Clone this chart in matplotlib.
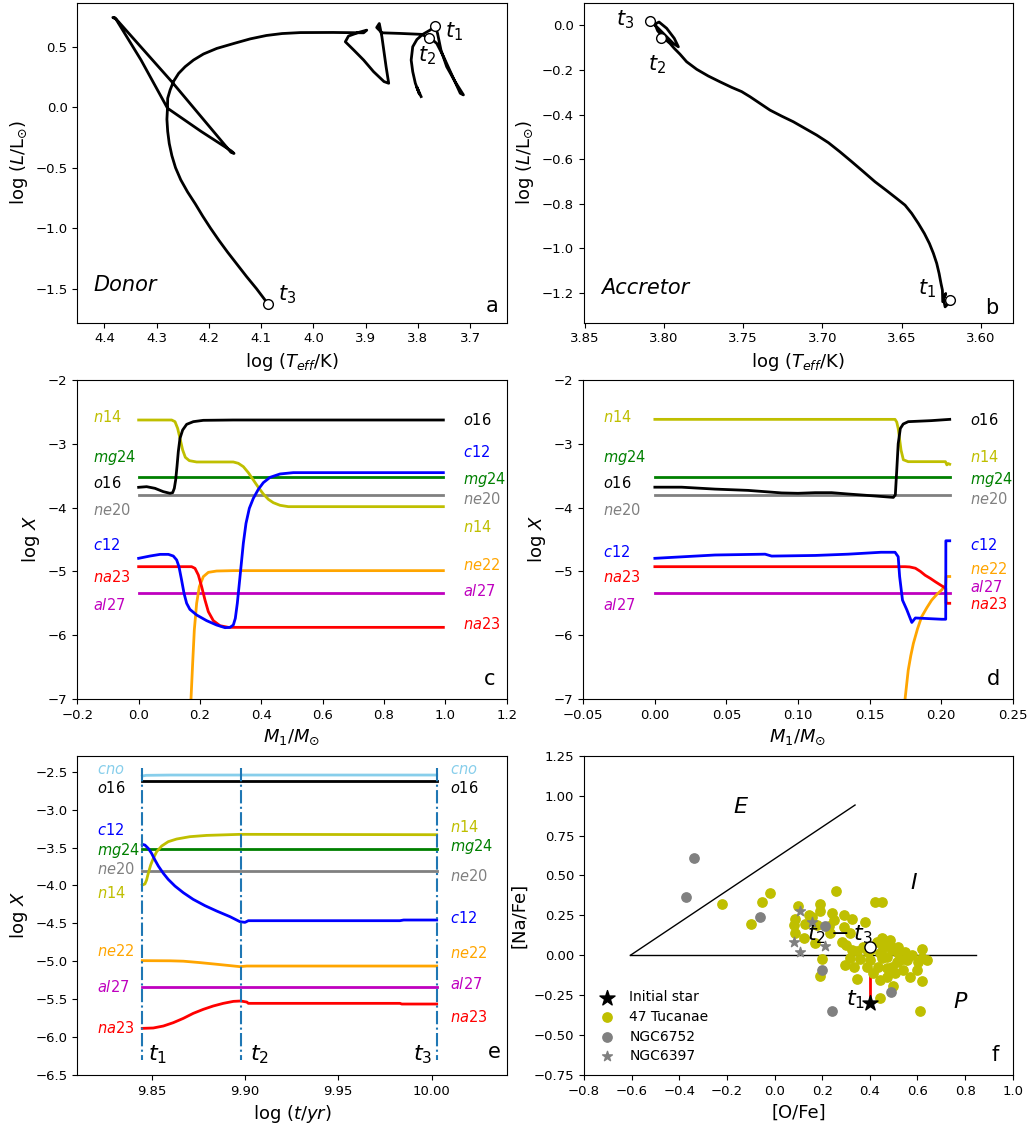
import numpy as np
import matplotlib
matplotlib.use('Agg')
import matplotlib.pyplot as plt

# ---------------- panel a : donor track ----------------
donor_logT = [3.794, 3.802, 3.797, 3.805, 3.810, 3.813, 3.810, 3.802, 3.791, 3.777, 3.767,
              3.7625, 3.756, 3.745, 3.729, 3.713, 3.719, 3.735, 3.751, 3.764, 3.773, 3.780,
              3.792, 3.834, 3.869, 3.879, 3.874, 3.869, 3.861, 3.856, 3.865, 3.885, 3.904,
              3.923, 3.939, 3.933, 3.914, 3.898, 3.904, 3.962, 4.025, 4.060, 4.090, 4.121, 4.150,
              4.185, 4.2105, 4.2296, 4.2456, 4.258, 4.268, 4.2743, 4.279, 4.2794,
              4.215, 4.157, 4.152, 4.158, 4.271, 4.380, 4.384, 4.378, 4.330, 4.2794,
              4.2805, 4.279, 4.276, 4.271, 4.264, 4.254, 4.241, 4.226, 4.212, 4.197, 4.181,
              4.164, 4.146, 4.128, 4.109, 4.087]
donor_logL = [0.088, 0.165, 0.107, 0.198, 0.294, 0.390, 0.500, 0.560, 0.602, 0.637, 0.670,
              0.610, 0.473, 0.335, 0.212, 0.102, 0.115, 0.266, 0.418, 0.527, 0.560, 0.569,
              0.602, 0.610, 0.615, 0.659, 0.692, 0.582, 0.335, 0.198, 0.212, 0.294, 0.390,
              0.473, 0.541, 0.588, 0.618, 0.637, 0.615, 0.618, 0.617, 0.609, 0.593, 0.565, 0.530,
              0.486, 0.440, 0.390, 0.335, 0.280, 0.212, 0.143, 0.074, -0.008,
              -0.200, -0.362, -0.382, -0.372, 0.210, 0.740, 0.742, 0.728, 0.390, -0.008,
              -0.1, -0.2, -0.3, -0.4, -0.5, -0.6, -0.7, -0.8, -0.9, -1.0, -1.1,
              -1.2, -1.3, -1.4, -1.5, -1.626]
donor_mark_logT = [3.767, 3.778, 4.087]
donor_mark_logL = [0.670, 0.569, -1.626]

# ---------------- panel b : accretor track ----------------
acc_logT = [3.6194, 3.6204, 3.6225, 3.6236, 3.6221, 3.6240, 3.6242, 3.6251, 3.6263, 3.6278,
            3.6299, 3.6324, 3.6356, 3.6394, 3.6436, 3.6478, 3.6531, 3.6594, 3.6668, 3.6741,
            3.6815, 3.6889, 3.6962, 3.7036, 3.7110, 3.7184, 3.7257, 3.7331, 3.7394, 3.7457,
            3.7510, 3.7573, 3.7647, 3.7721, 3.7794, 3.7858, 3.7900, 3.7936, 3.7963, 3.8005,
            3.8041, 3.8058, 3.8032, 3.7984, 3.7936, 3.7910, 3.7942, 3.8005, 3.8058, 3.8089]
acc_logL = [-1.232, -1.247, -1.262, -1.224, -1.202, -1.239, -1.187, -1.157, -1.112, -1.067,
            -1.022, -0.978, -0.933, -0.888, -0.843, -0.806, -0.776, -0.741, -0.701, -0.656,
            -0.611, -0.567, -0.526, -0.492, -0.462, -0.432, -0.407, -0.380, -0.350, -0.320,
            -0.297, -0.278, -0.253, -0.227, -0.197, -0.163, -0.129, -0.103, -0.081, -0.055,
            -0.024, 0.006, 0.015, -0.013, -0.058, -0.096, -0.081, -0.036, 0.0015, 0.021]
acc_mark_logT = [3.6194, 3.8022, 3.8089]
acc_mark_logL = [-1.232, -0.0553, 0.0209]

# ---------------- panel c : donor profiles ----------------
c_end = 0.9935
c_o16_m = [0, 0.0261, 0.0533, 0.0804, 0.1022, 0.1109, 0.1163, 0.1207, 0.125, 0.1293, 0.1348,
           0.1435, 0.1565, 0.1783, 0.2109, 0.3087, c_end]
c_o16 = [-3.682, -3.672, -3.698, -3.75, -3.776, -3.766, -3.698, -3.567, -3.358, -3.123, -2.914,
         -2.784, -2.695, -2.653, -2.632, -2.627, -2.627]
c_n14_m = [0, 0.1076, 0.1185, 0.1272, 0.1348, 0.1435, 0.1522, 0.1652, 0.1891, 0.3087, 0.325,
           0.3413, 0.3576, 0.3739, 0.3902, 0.4065, 0.4228, 0.4391, 0.4609, 0.488, c_end]
c_n14 = [-2.627, -2.627, -2.653, -2.758, -2.914, -3.097, -3.212, -3.264, -3.285, -3.285, -3.306,
         -3.358, -3.452, -3.567, -3.682, -3.787, -3.87, -3.923, -3.964, -3.985, -3.985]
c_c12_m = [0, 0.037, 0.07, 0.097, 0.113, 0.124, 0.1315, 0.14, 0.148, 0.1565, 0.167, 0.189,
           0.2217, 0.254, 0.2815, 0.298, 0.3087, 0.3152, 0.3217, 0.3283, 0.3348, 0.3413, 0.35,
           0.3609, 0.3739, 0.3902, 0.4065, 0.4283, 0.4609, 0.5043, c_end]
c_c12 = [-4.795, -4.759, -4.733, -4.733, -4.759, -4.821, -4.926, -5.135, -5.344, -5.50, -5.595,
         -5.683, -5.772, -5.84, -5.882, -5.877, -5.84, -5.736, -5.50, -5.187, -4.874, -4.56,
         -4.247, -4.011, -3.855, -3.714, -3.609, -3.526, -3.473, -3.452, -3.452]
c_na23_m = [0, 0.1728, 0.1837, 0.1946, 0.2054, 0.2163, 0.2272, 0.2435, 0.2652, 0.2924, c_end]
c_na23 = [-4.926, -4.926, -4.952, -5.056, -5.239, -5.448, -5.631, -5.772, -5.851, -5.877, -5.877]
c_ne22_m = [0.1674, 0.1707, 0.1761, 0.1815, 0.1891, 0.1978, 0.2109, 0.2272, 0.2543, 0.3087, c_end]
c_ne22 = [-7.33, -7.0, -6.441, -5.918, -5.50, -5.239, -5.082, -5.015, -4.994, -4.988, -4.988]
c_flat_m = [0, c_end]
c_mg24 = [-3.515, -3.515]
c_ne20 = [-3.808, -3.808]
c_al27 = [-5.339, -5.339]

# ---------------- panel d : accretor profiles ----------------
d_end = 0.206
d_o16_m = [0, 0.0187, 0.042, 0.065, 0.0886, 0.1, 0.112, 0.1235, 0.135, 0.154, 0.1666, 0.168,
           0.169, 0.170, 0.1715, 0.1735, 0.177, 0.193, d_end]
d_o16 = [-3.68, -3.68, -3.71, -3.73, -3.77, -3.776, -3.766, -3.766, -3.787, -3.818, -3.84, -3.80,
         -3.41, -3.0, -2.76, -2.69, -2.653, -2.637, -2.617]
d_n14_m = [0, 0.1678, 0.169, 0.170, 0.171, 0.172, 0.1736, 0.177, 0.203, 0.204, 0.205, d_end]
d_n14 = [-2.617, -2.617, -2.66, -2.76, -2.93, -3.10, -3.25, -3.28, -3.28, -3.33, -3.31, -3.32]
d_c12_m = [0, 0.042, 0.077, 0.0816, 0.112, 0.135, 0.158, 0.1678, 0.170, 0.171, 0.173, 0.176,
           0.1795, 0.182, 0.2004, 0.2032, 0.2033, d_end]
d_c12 = [-4.795, -4.743, -4.73, -4.76, -4.75, -4.73, -4.70, -4.70, -4.77, -5.08, -5.45, -5.6,
         -5.80, -5.73, -5.75, -5.75, -4.52, -4.52]
d_na23_m = [0, 0.1748, 0.178, 0.182, 0.1855, 0.1888, 0.1925, 0.1958, 0.2000, 0.2032, 0.2035, d_end]
d_na23 = [-4.926, -4.926, -4.93, -4.95, -5.00, -5.06, -5.11, -5.16, -5.22, -5.265, -5.50, -5.50]
d_ne22_m = [0.1735, 0.1748, 0.177, 0.1788, 0.1806, 0.1835, 0.1864, 0.190, 0.1934, 0.197,
            0.2004, 0.2032, 0.2035, d_end]
d_ne22 = [-7.5, -7.0, -6.55, -6.32, -6.13, -5.90, -5.71, -5.57, -5.45, -5.36, -5.29, -5.21, -5.08, -5.08]
d_flat_m = [0, d_end]
d_mg24 = [-3.515, -3.515]
d_ne20 = [-3.808, -3.808]
d_al27 = [-5.339, -5.339]

# ---------------- panel e : surface abundances vs time ----------------
e_times = [9.845, 9.8977, 10.0027]
e_flat_t = [9.845, 10.0027]
e_cno_t = [9.845, 9.847, 9.86, 10.0027]
e_cno = [-2.557, -2.548, -2.544, -2.544]
e_o16 = [-2.619, -2.619]
e_mg24 = [-3.515, -3.515]
e_ne20 = [-3.806, -3.806]
e_al27 = [-5.344, -5.344]
e_n14_t = [9.845, 9.8464, 9.8473, 9.8482, 9.8495, 9.8509, 9.8527, 9.8554, 9.8589, 9.8634,
           9.8705, 9.8795, 9.8977, 10.0027]
e_n14 = [-3.995, -3.981, -3.929, -3.841, -3.731, -3.643, -3.555, -3.48, -3.423, -3.388,
         -3.357, -3.34, -3.326, -3.331]
e_c12_t = [9.845, 9.8464, 9.8482, 9.85, 9.8518, 9.8536, 9.8563, 9.8589, 9.8625, 9.867, 9.8723,
           9.8786, 9.8848, 9.892, 9.8973, 9.90, 9.9018, 9.983, 9.985, 10.0027]
e_c12 = [-3.458, -3.467, -3.511, -3.577, -3.665, -3.744, -3.841, -3.920, -4.008, -4.096, -4.184,
         -4.267, -4.337, -4.412, -4.478, -4.487, -4.465, -4.465, -4.456, -4.456]
e_ne22_t = [9.845, 9.86, 9.867, 9.876, 9.885, 9.8973, 9.901, 10.0027]
e_ne22 = [-4.992, -4.994, -4.999, -5.018, -5.04, -5.071, -5.063, -5.063]
e_na23_t = [9.845, 9.8509, 9.8563, 9.8616, 9.867, 9.8723, 9.8777, 9.883, 9.8884, 9.8938, 9.8977,
            9.901, 9.9018, 9.983, 9.984, 10.0027]
e_na23 = [-5.885, -5.880, -5.854, -5.81, -5.753, -5.687, -5.634, -5.590, -5.555, -5.529, -5.524,
          -5.538, -5.555, -5.555, -5.564, -5.564]

# ---------------- panel f : [Na/Fe] vs [O/Fe] ----------------
tuc_OFe = [0.259, 0.420, 0.450, 0.097, 0.189, 0.189, 0.143, 0.087, 0.157, 0.241, 0.290, 0.248, 0.325,
           0.380, 0.080, 0.129, 0.178, 0.227, 0.290, 0.122, 0.171, 0.234, 0.283, 0.318, 0.301, 0.325,
           0.348, 0.394, 0.429, 0.450, 0.485, 0.457, 0.492, 0.520, 0.520, 0.548, 0.527, 0.576, 0.618,
           0.618, 0.639, 0.604, 0.597, 0.569, 0.618, 0.499, 0.471, 0.443, 0.415, 0.436, 0.388, 0.360,
           0.318, 0.297, 0.334, 0.348, 0.199, 0.189, 0.441, 0.611, 0.506, 0.450, 0.401, 0.492, 0.541,
           0.513, 0.471, 0.401, 0.485, 0.555, 0.443, 0.471, 0.373, 0.464, 0.087,
           -0.221, -0.099, -0.053, -0.021]
tuc_NaFe = [0.405, 0.336, 0.336, 0.309, 0.321, 0.279, 0.252, 0.225, 0.238, 0.263, 0.252, 0.221, 0.225,
            0.206, 0.190, 0.196, 0.190, 0.183, 0.175, 0.106, 0.075, 0.137, 0.085, 0.137, 0.064, 0.033,
            0.029, 0.023, 0.085, 0.106, 0.096, 0.043, 0.033, 0.050, 0.012, 0.023, -0.030, 0.002, 0.037,
            -0.019, -0.030, -0.040, -0.092, -0.138, -0.161, -0.190, -0.138, -0.155, -0.113, -0.071, -0.071, -0.026,
            -0.019, -0.061, -0.076, -0.151, -0.026, -0.130, -0.270, -0.349, -0.113, -0.019, -0.030, -0.071, -0.092,
            -0.040, -0.082, 0.033, 0.064, -0.030, 0.012, -0.009, 0.054, 0.085, 0.137,
            0.321, 0.194, 0.331, 0.388]
n6752_OFe = [-0.340, -0.372, -0.060, 0.210, 0.201, 0.490, 0.240]
n6752_NaFe = [0.607, 0.363, 0.237, 0.183, -0.092, -0.232, -0.349]
n6397_OFe = [0.108, 0.157, 0.080, 0.108, 0.210]
n6397_NaFe = [0.279, 0.210, 0.081, 0.018, 0.060]
init_OFe = [0.40]
init_NaFe = [-0.30]
final_OFe = [0.40]
final_NaFe = [0.05]
diag_OFe = [-0.605, 0.338]
diag_NaFe = [0.0, 0.941]
horiz_OFe = [-0.605, 0.846]
horiz_NaFe = [0.0, 0.0]

# ---------------- figure ----------------
W, H = 1030, 1126
fig = plt.figure(figsize=(W / 100, H / 100), dpi=100)

def axbox(x0, y0, x1, y1):
    return fig.add_axes([x0 / W, 1 - y1 / H, (x1 - x0) / W, (y1 - y0) / H])

axa = axbox(77.3, 3.3, 507.3, 322.7)
axb = axbox(583.7, 3.3, 1012.7, 322.7)
axc = axbox(77.3, 380, 506.7, 699)
axd = axbox(583.3, 380, 1012.7, 699)
axe = axbox(77.3, 755.7, 506.7, 1075)
axf = axbox(584, 755.7, 1012.7, 1075)

TICK = 9.5
LAB = 13
for ax in (axa, axb, axc, axd, axe, axf):
    ax.tick_params(labelsize=TICK)

def letter(ax, s, x, y):
    ax.text(x, y, s, transform=ax.transAxes, fontsize=15, ha='left', va='bottom')

# panel a
axa.plot(donor_logT, donor_logL, color='k', lw=2, solid_joinstyle='round')
axa.plot(donor_mark_logT, donor_mark_logL, 'o', ms=7, mfc='white', mec='k', mew=1)
axa.set_xlim(4.452, 3.629)
axa.set_ylim(-1.781, 0.859)
axa.set_xticks([4.4, 4.3, 4.2, 4.1, 4.0, 3.9, 3.8, 3.7])
axa.set_yticks([-1.5, -1.0, -0.5, 0.0, 0.5])
axa.set_xlabel(r'log ($T_{eff}$/K)', fontsize=LAB)
axa.set_ylabel(r'log ($L$/L$_{\odot}$)', fontsize=LAB)
axa.text(3.748, 0.624, r'$t_1$', fontsize=15, va='center')
axa.text(3.799, 0.43, r'$t_2$', fontsize=15, va='center')
axa.text(4.068, -1.547, r'$t_3$', fontsize=15, va='center')
axa.text(0.037, 0.1, 'Donor', transform=axa.transAxes, fontsize=15, style='italic')
letter(axa, 'a', 0.95, 0.02)

# panel b
axb.plot(acc_logT, acc_logL, color='k', lw=2, solid_joinstyle='round')
axb.plot(acc_mark_logT, acc_mark_logL, 'o', ms=7, mfc='white', mec='k', mew=1)
axb.set_xlim(3.8508, 3.5798)
axb.set_ylim(-1.333, 0.099)
axb.set_xticks([3.85, 3.80, 3.75, 3.70, 3.65, 3.60])
axb.set_yticks([-1.2, -1.0, -0.8, -0.6, -0.4, -0.2, 0.0])
axb.set_xlabel(r'log ($T_{eff}$/K)', fontsize=LAB)
axb.set_ylabel(r'log ($L$/L$_{\odot}$)', fontsize=LAB)
axb.text(3.8305, 0.024, r'$t_3$', fontsize=15, va='center')
axb.text(3.8104, -0.178, r'$t_2$', fontsize=15, va='center')
axb.text(3.6394, -1.18, r'$t_1$', fontsize=15, va='center')
axb.text(0.04, 0.09, 'Accretor', transform=axb.transAxes, fontsize=15, style='italic')
letter(axb, 'b', 0.935, 0.015)

LW = 2
cols = dict(o16='k', n14='y', c12='b', mg24='g', ne20='gray', ne22='orange',
            na23='r', al27='m', cno='skyblue')

def lab(ax, x, y, name):
    ax.text(x, y, r'$' + name + '$', color=cols[name], fontsize=10.5, ha='left', va='center')

def curve(ax, x, y, name):
    ax.plot(x, y, color=cols[name], lw=LW, solid_joinstyle='round')

# panel c
curve(axc, c_flat_m, c_mg24, 'mg24')
curve(axc, c_flat_m, c_ne20, 'ne20')
curve(axc, c_flat_m, c_al27, 'al27')
curve(axc, c_ne22_m, c_ne22, 'ne22')
curve(axc, c_na23_m, c_na23, 'na23')
curve(axc, c_n14_m, c_n14, 'n14')
curve(axc, c_o16_m, c_o16, 'o16')
curve(axc, c_c12_m, c_c12, 'c12')
axc.set_xlim(-0.2, 1.2)
axc.set_ylim(-7, -2)
axc.set_xticks(np.round(np.arange(-0.2, 1.21, 0.2), 1))
axc.set_yticks([-7, -6, -5, -4, -3, -2])
axc.set_xlabel(r'$M_1/M_{\odot}$', fontsize=LAB)
axc.set_ylabel(r'log $X$', fontsize=LAB)
for nm, yy in [('n14', -2.585), ('mg24', -3.21), ('o16', -3.62), ('ne20', -4.04),
               ('c12', -4.59), ('na23', -5.09), ('al27', -5.52)]:
    lab(axc, -0.148, yy, nm)
for nm, yy in [('o16', -2.627), ('c12', -3.123), ('mg24', -3.557), ('ne20', -3.865),
               ('n14', -4.30), ('ne22', -4.90), ('al27', -5.30), ('na23', -5.824)]:
    lab(axc, 1.059, yy, nm)
letter(axc, 'c', 0.948, 0.03)

# panel d
curve(axd, d_flat_m, d_mg24, 'mg24')
curve(axd, d_flat_m, d_ne20, 'ne20')
curve(axd, d_flat_m, d_al27, 'al27')
curve(axd, d_ne22_m, d_ne22, 'ne22')
curve(axd, d_na23_m, d_na23, 'na23')
curve(axd, d_n14_m, d_n14, 'n14')
curve(axd, d_o16_m, d_o16, 'o16')
curve(axd, d_c12_m, d_c12, 'c12')
axd.set_xlim(-0.05, 0.25)
axd.set_ylim(-7, -2)
axd.set_xticks([-0.05, 0.0, 0.05, 0.10, 0.15, 0.20, 0.25])
axd.set_yticks([-7, -6, -5, -4, -3, -2])
axd.set_xlabel(r'$M_1/M_{\odot}$', fontsize=LAB)
axd.set_ylabel(r'log $X$', fontsize=LAB)
for nm, yy in [('n14', -2.585), ('mg24', -3.21), ('o16', -3.62), ('ne20', -4.04),
               ('c12', -4.69), ('na23', -5.09), ('al27', -5.52)]:
    lab(axd, -0.036, yy, nm)
for nm, yy in [('o16', -2.627), ('n14', -3.21), ('mg24', -3.557), ('ne20', -3.865),
               ('c12', -4.586), ('ne22', -4.967), ('al27', -5.25), ('na23', -5.516)]:
    lab(axd, 0.2202, yy, nm)
letter(axd, 'd', 0.94, 0.03)

# panel e
curve(axe, e_cno_t, e_cno, 'cno')
curve(axe, e_flat_t, e_o16, 'o16')
curve(axe, e_flat_t, e_mg24, 'mg24')
curve(axe, e_flat_t, e_ne20, 'ne20')
curve(axe, e_flat_t, e_al27, 'al27')
curve(axe, e_n14_t, e_n14, 'n14')
curve(axe, e_c12_t, e_c12, 'c12')
curve(axe, e_ne22_t, e_ne22, 'ne22')
curve(axe, e_na23_t, e_na23, 'na23')
for tv in e_times:
    axe.plot([tv, tv], [-2.456, -6.302], color='#1f77b4', lw=1.5, ls='-.')
axe.set_xlim(9.8102, 10.0402)
axe.set_ylim(-6.5, -2.289)
axe.set_xticks([9.85, 9.90, 9.95, 10.00])
axe.set_xticklabels(['9.85', '9.90', '9.95', '10.00'])
axe.set_yticks(np.round(np.arange(-6.5, -2.49, 0.5), 1))
axe.set_xlabel(r'log ($t/yr$)', fontsize=LAB)
axe.set_ylabel(r'log $X$', fontsize=LAB)
for nm, yy in [('cno', -2.469), ('o16', -2.72), ('c12', -3.269), ('mg24', -3.533), ('ne20', -3.784),
               ('n14', -4.104), ('ne22', -4.86), ('al27', -5.335), ('na23', -5.885)]:
    lab(axe, 9.8205, yy, nm)
for nm, yy in [('cno', -2.469), ('o16', -2.72), ('n14', -3.234), ('mg24', -3.489), ('ne20', -3.876),
               ('c12', -4.434), ('ne22', -4.896), ('al27', -5.30), ('na23', -5.73)]:
    lab(axe, 10.0098, yy, nm)
axe.text(9.8482, -6.236, r'$t_1$', fontsize=16, va='center')
axe.text(9.9027, -6.236, r'$t_2$', fontsize=16, va='center')
axe.text(9.9900, -6.236, r'$t_3$', fontsize=16, va='center')
letter(axe, 'e', 0.955, 0.04)

# panel f
axf.plot(diag_OFe, diag_NaFe, color='k', lw=1)
axf.plot(horiz_OFe, horiz_NaFe, color='k', lw=1)
axf.plot([init_OFe[0], final_OFe[0]], [init_NaFe[0], final_NaFe[0]], color='r', lw=2)
axf.scatter(tuc_OFe, tuc_NaFe, s=45, color='y', label='47 Tucanae', zorder=3)
axf.scatter(n6752_OFe, n6752_NaFe, s=45, color='gray', label='NGC6752', zorder=3)
axf.scatter(n6397_OFe, n6397_NaFe, s=55, marker='*', color='gray', label='NGC6397', zorder=3)
axf.scatter(init_OFe, init_NaFe, s=130, marker='*', color='k', label='Initial star', zorder=4)
axf.plot(final_OFe, final_NaFe, 'o', ms=8, mfc='white', mec='k', mew=1, zorder=5)
axf.set_xlim(-0.8, 1.0)
axf.set_ylim(-0.75, 1.25)
axf.set_xticks(np.round(np.arange(-0.8, 1.01, 0.2), 1))
axf.set_yticks(np.arange(-0.75, 1.26, 0.25))
axf.set_xlabel('[O/Fe]', fontsize=LAB)
axf.set_ylabel('[Na/Fe]', fontsize=LAB)
axf.text(-0.175, 0.93, r'$E$', fontsize=16, va='center')
axf.text(0.57, 0.45, r'$I$', fontsize=16, va='center')
axf.text(0.75, -0.29, r'$P$', fontsize=16, va='center')
axf.text(0.136, 0.13, r'$t_2-t_3$', fontsize=16, va='center')
axf.text(0.30, -0.28, r'$t_1$', fontsize=16, va='center')
hh, ll = axf.get_legend_handles_labels()
order = [ll.index(k) for k in ['Initial star', '47 Tucanae', 'NGC6752', 'NGC6397']]
axf.legend([hh[i] for i in order], [ll[i] for i in order], loc='lower left',
           frameon=False, fontsize=10, bbox_to_anchor=(-0.008, -0.002),
           labelspacing=0.4, handletextpad=0.6)
letter(axf, 'f', 0.95, 0.03)

fig.savefig('out.png', dpi=100)
